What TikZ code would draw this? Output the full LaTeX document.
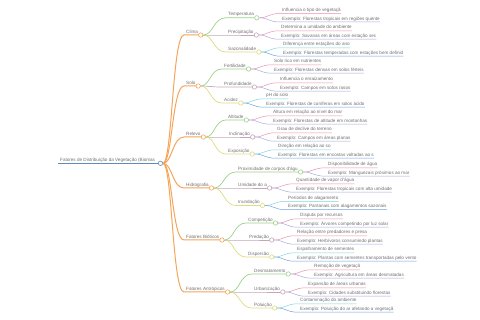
\documentclass[tikz,border=0pt]{standalone}
\usepackage{fontspec}
\setmainfont{Liberation Sans}
\usetikzlibrary{calc}
\definecolor{corange}{HTML}{F5A45A}
\definecolor{croot}{HTML}{5B8DB8}
\definecolor{cgreen}{HTML}{9BD28A}
\definecolor{cmauve}{HTML}{C4A6B8}
\definecolor{cyellow}{HTML}{DCDC82}
\definecolor{cpink}{HTML}{E890B0}
\definecolor{clav}{HTML}{A8A8E0}
\definecolor{ccyan}{HTML}{80D4E0}
\definecolor{cblue}{HTML}{6FA0E0}
\definecolor{ctext}{HTML}{707070}
\tikzset{
  lbl/.style={font=\fontsize{4.6}{5.5}\selectfont, text=ctext, inner sep=0pt, anchor=base west},
  dot/.style={circle, fill=white, line width=0.6pt, inner sep=0pt, minimum size=4.4pt},
}
% branch: name, parent, text, text-x, line-y, circle-x (unused, follows text), color, line width
\newcommand\mmbranch[8]{%
  \coordinate (#1-s) at ({#4-2},{#5});
  \node[lbl] (#1-t) at (#4,{#5-1.8}) {#3};
  \coordinate (#1-e) at ($(#1-t.east |- #1-s)+(2.6,0)$);
  \draw[#7, line width=#8] let \p1=(#2.center), \p2=(#1-s) in
    (#2) .. controls ({0.5*\x1+0.5*\x2},\y1) and ({0.5*\x1+0.5*\x2},\y2) .. (#1-s) -- (#1-e);
  \node[dot, draw=#7] (#1) at (#1-e) {};
}
% leaf: name, parent, text, text-x, line-y, color
\newcommand\mmleaf[6]{%
  \coordinate (#1-s) at ({#4-2},{#5});
  \node[lbl] (#1) at (#4,{#5-1.8}) {#3};
  \draw[#6, line width=0.5pt] let \p1=(#2.center), \p2=(#1-s) in
    (#2) .. controls ({0.5*\x1+0.5*\x2},\y1) and ({0.5*\x1+0.5*\x2},\y2) .. (#1-s) -- (#1-s -| #1.east);
}
\begin{document}
\begin{tikzpicture}[x=1pt,y=-1pt]
\useasboundingbox (0,0) rectangle (480,320);
% root
\coordinate (root-s) at (58,163.3);
\coordinate (root-e) at (160.5,163.3);
\node[lbl] (root-t) at (60,161.5) {Fatores de Distribuição da Vegetação (Biomas};
\draw[croot, line width=0.9pt] (root-s) -- (root-e);
\node[dot, draw=croot] (root) at (root-e) {};

% Clima
\mmbranch{clima}{root}{Clima}{186}{35}{201}{corange}{1pt}
\mmbranch{temp}{clima}{Temperatura}{228}{17.8}{256}{cgreen}{0.7pt}
\mmleaf{temp1}{temp}{Influencia o tipo de vegetaçã}{282}{13.5}{cpink}
\mmleaf{temp2}{temp}{Exemplo: Florestas tropicais em regiões quente}{282}{22}{clav}
\mmbranch{prec}{clima}{Precipitação}{228}{35}{255}{cmauve}{0.7pt}
\mmleaf{prec1}{prec}{Determina a umidade do ambiente}{281}{30.8}{cpink}
\mmleaf{prec2}{prec}{Exemplo: Savanas em áreas com estação sec}{281}{39.2}{clav}
\mmbranch{saz}{clima}{Sazonalidade}{228}{52}{258}{cyellow}{0.7pt}
\mmleaf{saz1}{saz}{Diferença entre estações do ano}{283}{47.8}{ccyan}
\mmleaf{saz2}{saz}{Exemplo: Florestas temperadas com estações bem definid}{283}{56.2}{cblue}

% Solo
\mmbranch{solo}{root}{Solo}{186}{86}{197}{corange}{1pt}
\mmbranch{fert}{solo}{Fertilidade}{224}{69}{247}{cgreen}{0.7pt}
\mmleaf{fert1}{fert}{Solo rico em nutrientes}{274}{64.8}{cpink}
\mmleaf{fert2}{fert}{Exemplo: Florestas densas em solos férteis}{274}{73.2}{clav}
\mmbranch{prof}{solo}{Profundidade}{224}{87}{254}{cmauve}{0.7pt}
\mmleaf{prof1}{prof}{Influencia o enraizamento}{280}{82.8}{cpink}
\mmleaf{prof2}{prof}{Exemplo: Campos em solos rasos}{280}{91.2}{clav}
\mmbranch{acid}{solo}{Acidez}{224}{103}{239}{cyellow}{0.7pt}
\mmleaf{acid1}{acid}{pH do solo}{266}{98.8}{ccyan}
\mmleaf{acid2}{acid}{Exemplo: Florestas de coníferas em solos ácido}{266}{107.2}{cblue}

% Relevo
\mmbranch{relevo}{root}{Relevo}{186}{137}{202}{corange}{1pt}
\mmbranch{alt}{relevo}{Altitude}{228}{120}{247}{cgreen}{0.7pt}
\mmleaf{alt1}{alt}{Altura em relação ao nível do mar}{273}{115.8}{cpink}
\mmleaf{alt2}{alt}{Exemplo: Florestas de altitude em montanhas}{273}{124.2}{clav}
\mmbranch{incl}{relevo}{Inclinação}{229}{137}{252}{cmauve}{0.7pt}
\mmleaf{incl1}{incl}{Grau de declive do terreno}{277}{132.8}{cpink}
\mmleaf{incl2}{incl}{Exemplo: Campos em áreas planas}{277}{141.2}{clav}
\mmbranch{expo}{relevo}{Exposição}{228}{154}{252}{cyellow}{0.7pt}
\mmleaf{expo1}{expo}{Direção em relação ao so}{278}{149.8}{ccyan}
\mmleaf{expo2}{expo}{Exemplo: Florestas em encostas voltadas ao s}{278}{158.2}{cblue}

% Hidrografia
\mmbranch{hidro}{root}{Hidrografia}{186}{188}{212}{corange}{1pt}
\mmbranch{prox}{hidro}{Proximidade de corpos d'águ}{238}{172}{302}{cgreen}{0.7pt}
\mmleaf{prox1}{prox}{Disponibilidade de água}{328}{167.8}{cpink}
\mmleaf{prox2}{prox}{Exemplo: Manguezais próximos ao mar}{328}{176.2}{clav}
\mmbranch{umid}{hidro}{Umidade do a}{238}{188}{270}{cmauve}{0.7pt}
\mmleaf{umid1}{umid}{Quantidade de vapor d'água}{296}{183.8}{cpink}
\mmleaf{umid2}{umid}{Exemplo: Florestas tropicais com alta umidade}{296}{192.2}{clav}
\mmbranch{inun}{hidro}{Inundação}{238}{205.5}{262}{cyellow}{0.7pt}
\mmleaf{inun1}{inun}{Períodos de alagamento}{288}{201.3}{ccyan}
\mmleaf{inun2}{inun}{Exemplo: Pantanais com alagamentos sazonais}{288}{209.7}{cblue}

% Fatores Bioticos
\mmbranch{biot}{root}{Fatores Bióticos}{186}{240}{222}{corange}{1pt}
\mmbranch{comp}{biot}{Competição}{248}{223}{275}{cgreen}{0.7pt}
\mmleaf{comp1}{comp}{Disputa por recursos}{300}{218.8}{cpink}
\mmleaf{comp2}{comp}{Exemplo: Árvores competindo por luz solar}{300}{227.2}{clav}
\mmbranch{pred}{biot}{Predação}{249}{240}{270}{cmauve}{0.7pt}
\mmleaf{pred1}{pred}{Relação entre predadores e presa}{297}{235.8}{cpink}
\mmleaf{pred2}{pred}{Exemplo: Herbívoros consumindo plantas}{297}{244.2}{clav}
\mmbranch{disp}{biot}{Dispersão}{248}{257}{272}{cyellow}{0.7pt}
\mmleaf{disp1}{disp}{Espalhamento de sementes}{297}{252.8}{ccyan}
\mmleaf{disp2}{disp}{Exemplo: Plantas com sementes transportadas pelo vento}{297}{261.2}{cblue}

% Fatores Antropicos
\mmbranch{antr}{root}{Fatores Antrópicos}{186}{292}{227}{corange}{1pt}
\mmbranch{desm}{antr}{Desmatamento}{254}{274}{288}{cgreen}{0.7pt}
\mmleaf{desm1}{desm}{Remoção de vegetaçã}{314}{269.8}{cpink}
\mmleaf{desm2}{desm}{Exemplo: Agricultura em áreas desmatadas}{314}{278.2}{clav}
\mmbranch{urb}{antr}{Urbanização}{254}{292}{282}{cmauve}{0.7pt}
\mmleaf{urb1}{urb}{Expansão de áreas urbanas}{308}{287.8}{cpink}
\mmleaf{urb2}{urb}{Exemplo: Cidades substituindo florestas}{308}{296.2}{clav}
\mmbranch{polu}{antr}{Poluição}{254}{308}{274}{cyellow}{0.7pt}
\mmleaf{polu1}{polu}{Contaminação do ambiente}{300}{303.8}{ccyan}
\mmleaf{polu2}{polu}{Exemplo: Poluição do ar afetando a vegetaçã}{300}{312.2}{cblue}
\end{tikzpicture}
\end{document}
